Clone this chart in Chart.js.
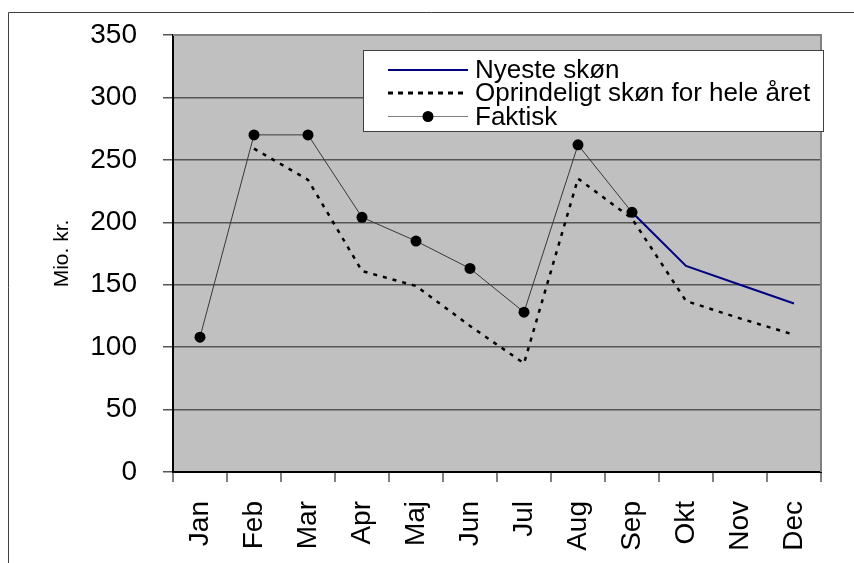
<!DOCTYPE html>
<html>
<head>
<meta charset="utf-8">
<script src="https://cdn.jsdelivr.net/npm/chart.js@4/dist/chart.umd.min.js"></script>
<style>
  html, body { margin: 0; padding: 0; background: #fff; }
  #c { display: block; }
</style>
</head>
<body>
<canvas id="c" width="854" height="563"></canvas>
<script>
const months = ['Jan','Feb','Mar','Apr','Maj','Jun','Jul','Aug','Sep','Okt','Nov','Dec'];
const faktisk = [108, 270, 270, 204, 185, 163, 128, 262, 208, null, null, null];
const nyeste = [null, null, null, null, null, null, null, null, 208, 165, 150, 135];
const oprindeligt = [null, 259, 234, 161, 149, 117, 87, 235, 203, 137, 123, 110];
const yTicks = [0, 50, 100, 150, 200, 250, 300, 350];
const yTitle = 'Mio. kr.';
const seriesNames = ['Nyeste skøn', 'Oprindeligt skøn for hele året', 'Faktisk'];

const FONT = '"Liberation Sans", Arial, sans-serif';

const bgPlugin = {
  id: 'bg',
  beforeDraw(chart) {
    const ctx = chart.ctx, a = chart.chartArea;
    ctx.save();
    ctx.fillStyle = '#fff';
    ctx.fillRect(0, 0, chart.width, chart.height);
    ctx.fillStyle = '#C0C0C0';
    ctx.fillRect(a.left, a.top, a.right - a.left, a.bottom - a.top);
    ctx.strokeStyle = '#404040';
    ctx.lineWidth = 1;
    ctx.beginPath();
    ctx.moveTo(8.5, chart.height);
    ctx.lineTo(8.5, 12.5);
    ctx.lineTo(chart.width, 12.5);
    ctx.stroke();
    ctx.restore();
  },
  afterDraw(chart) {
    const ctx = chart.ctx, a = chart.chartArea;
    ctx.save();
    ctx.strokeStyle = '#808080';
    ctx.lineWidth = 2;
    ctx.beginPath();
    ctx.moveTo(a.left, a.top);
    ctx.lineTo(a.right, a.top);
    ctx.lineTo(a.right, a.bottom);
    ctx.stroke();
    // legend
    const bx = 363, by = 50, bw = 460, bh = 81;
    ctx.fillStyle = '#fff';
    ctx.fillRect(bx, by, bw, bh);
    ctx.strokeStyle = '#404040';
    ctx.lineWidth = 1;
    ctx.strokeRect(bx + 0.5, by + 0.5, bw, bh);
    const order = [1, 2, 0]; // dataset index per legend row
    const rows = [70, 93, 116.5];
    ctx.font = '26px ' + FONT;
    ctx.textBaseline = 'middle';
    ctx.textAlign = 'left';
    order.forEach((di, i) => {
      const ds = chart.data.datasets[di];
      const y = rows[i];
      ctx.save();
      ctx.strokeStyle = ds.legendColor || ds.borderColor;
      ctx.lineWidth = ds.legendWidth || ds.borderWidth;
      ctx.setLineDash(ds.legendDash || []);
      ctx.beginPath();
      ctx.moveTo(388, y);
      ctx.lineTo(468, y);
      ctx.stroke();
      ctx.restore();
      if (ds.pointRadius > 0) {
        ctx.fillStyle = ds.pointBackgroundColor;
        ctx.beginPath();
        ctx.arc(428, y, ds.pointRadius, 0, Math.PI * 2);
        ctx.fill();
      }
      ctx.fillStyle = '#000';
      ctx.fillText(ds.label, 475, y + 1);
    });
    ctx.restore();
  }
};

new Chart(document.getElementById('c'), {
  type: 'line',
  data: {
    labels: months,
    datasets: [
      {
        label: seriesNames[2], data: faktisk,
        borderColor: '#383838', borderWidth: 1,
        pointRadius: 5.5, pointHoverRadius: 5.5,
        pointBackgroundColor: '#000', pointBorderColor: '#000', pointBorderWidth: 0,
        legendColor: '#808080', legendWidth: 1
      },
      {
        label: seriesNames[0], data: nyeste,
        borderColor: '#000080', borderWidth: 2, pointRadius: 0
      },
      {
        label: seriesNames[1], data: oprindeligt,
        borderColor: '#000', borderWidth: 2.5, borderDash: [4, 6], pointRadius: 0,
        legendWidth: 3, legendDash: [5, 5]
      }
    ]
  },
  options: {
    responsive: false,
    devicePixelRatio: 1,
    animation: false,
    layout: { padding: { top: 35, right: 33, left: 0, bottom: 0 } },
    plugins: { legend: { display: false }, title: { display: false }, tooltip: { enabled: false } },
    scales: {
      x: {
        type: 'category',
        offset: true,
        grid: { offset: true, drawOnChartArea: false, drawTicks: true, tickLength: 10, color: '#808080', lineWidth: 2 },
        border: { display: true, color: '#000', width: 2 },
        ticks: { minRotation: 90, maxRotation: 90, autoSkip: false, padding: 19, color: '#000', font: { family: FONT, size: 28 } },
        afterFit(s) { s.height = 91; s.paddingLeft = 0; s.paddingRight = 0; }
      },
      y: {
        min: 0, max: 350,
        afterBuildTicks(s) { s.ticks = yTicks.map(v => ({ value: v })); },
        grid: { color: '#555', lineWidth: 1.5, tickLength: 10, drawTicks: true },
        border: { display: true, color: '#000', width: 2 },
        ticks: { padding: 26, color: '#000', font: { family: FONT, size: 28 } },
        title: { display: true, text: yTitle, color: '#000', font: { family: FONT, size: 21 }, padding: { top: 50, bottom: 0 } },
        afterFit(s) { s.width = 173; s.paddingTop = 0; s.paddingBottom = 0; }
      }
    }
  },
  plugins: [bgPlugin]
});
</script>
</body>
</html>
